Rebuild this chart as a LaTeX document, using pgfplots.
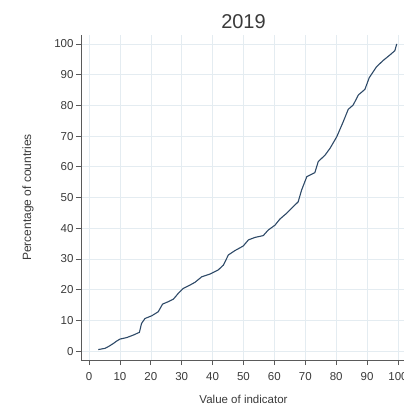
\documentclass[border=0pt]{standalone}
\usepackage{pgfplots}
\pgfplotsset{compat=1.18}
\usepackage{fontspec}
\setmainfont{Liberation Sans}

\definecolor{txt}{HTML}{3A3A3A}
\definecolor{axln}{HTML}{5A5A5A}
\definecolor{gridc}{HTML}{E4ECF1}
\definecolor{curve}{HTML}{2E4A68}

\begin{document}
\begin{tikzpicture}
\begin{axis}[
  at={(0,0)}, anchor=south west,
  scale only axis,
  width=325pt, height=325pt,
  xmin=-2.6, xmax=102.6,
  ymin=-2.9, ymax=102.9,
  separate axis lines,
  axis x line*=bottom,
  axis y line*=left,
  axis line style={axln, line width=0.9pt},
  xtick={0,10,...,100},
  ytick={0,10,...,100},
  tick align=outside,
  major tick length=5pt,
  tick style={axln, line width=0.8pt},
  grid=major,
  major grid style={gridc, line width=0.6pt},
  tick label style={font=\fontsize{11.5}{13}\selectfont, text=txt},
  xticklabel style={yshift=-3.5pt},
  yticklabel style={xshift=1pt},
  /pgf/number format/assume math mode=true,
  title={2019},
  title style={font=\fontsize{20}{23}\selectfont, text=txt,
    at={(axis description cs:0.5,1.003)}, anchor=base},
  xlabel={Value of indicator},
  xlabel style={font=\fontsize{11.5}{13}\selectfont, text=txt,
    at={(axis description cs:0.5,-0.1332)}, anchor=base},
  ylabel={Percentage of countries},
  ylabel style={font=\fontsize{12}{14}\selectfont, text=txt,
    at={(axis description cs:-0.1538,0.5)}, anchor=base},
]
\addplot[curve, line width=1.1pt, mark=none] coordinates {
  (3,0.5) (5.2,0.9) (6.5,1.6) (7.9,2.5) (9,3.3) (10,3.9)
  (12.2,4.4) (14.3,5.2) (16.3,6.1) (17.0,9.0) (18.1,10.6)
  (20.3,11.5) (22.4,12.8) (23.8,15.3) (25.7,16.1) (27.3,16.9)
  (28.9,18.8) (30.5,20.4) (32.7,21.5) (34.3,22.4) (36.5,24.2)
  (39.2,25.1) (41.8,26.4) (43.5,28.0) (45.1,31.3) (47.2,32.7)
  (49.9,34.2) (51.6,36.2) (53.7,37.0) (56.4,37.6) (58.0,39.4)
  (60.2,41.0) (61.8,43.0) (64.0,44.9) (66.1,47.0) (67.7,48.6)
  (68.8,52.4) (70.5,56.8) (73.1,58.1) (74.2,61.7) (76.4,63.8)
  (78.0,66.0) (80.2,69.8) (82.3,74.7) (83.9,78.7) (85.5,80.1)
  (87.2,83.4) (89.3,85.2) (90.7,89.0) (93.1,92.6) (95.2,94.6)
  (97.4,96.4) (99.0,97.8) (99.6,100)
};
\end{axis}
\pgfresetboundingbox
\useasboundingbox (-81pt,-48pt) rectangle (323pt,360pt);
\end{tikzpicture}
\end{document}
